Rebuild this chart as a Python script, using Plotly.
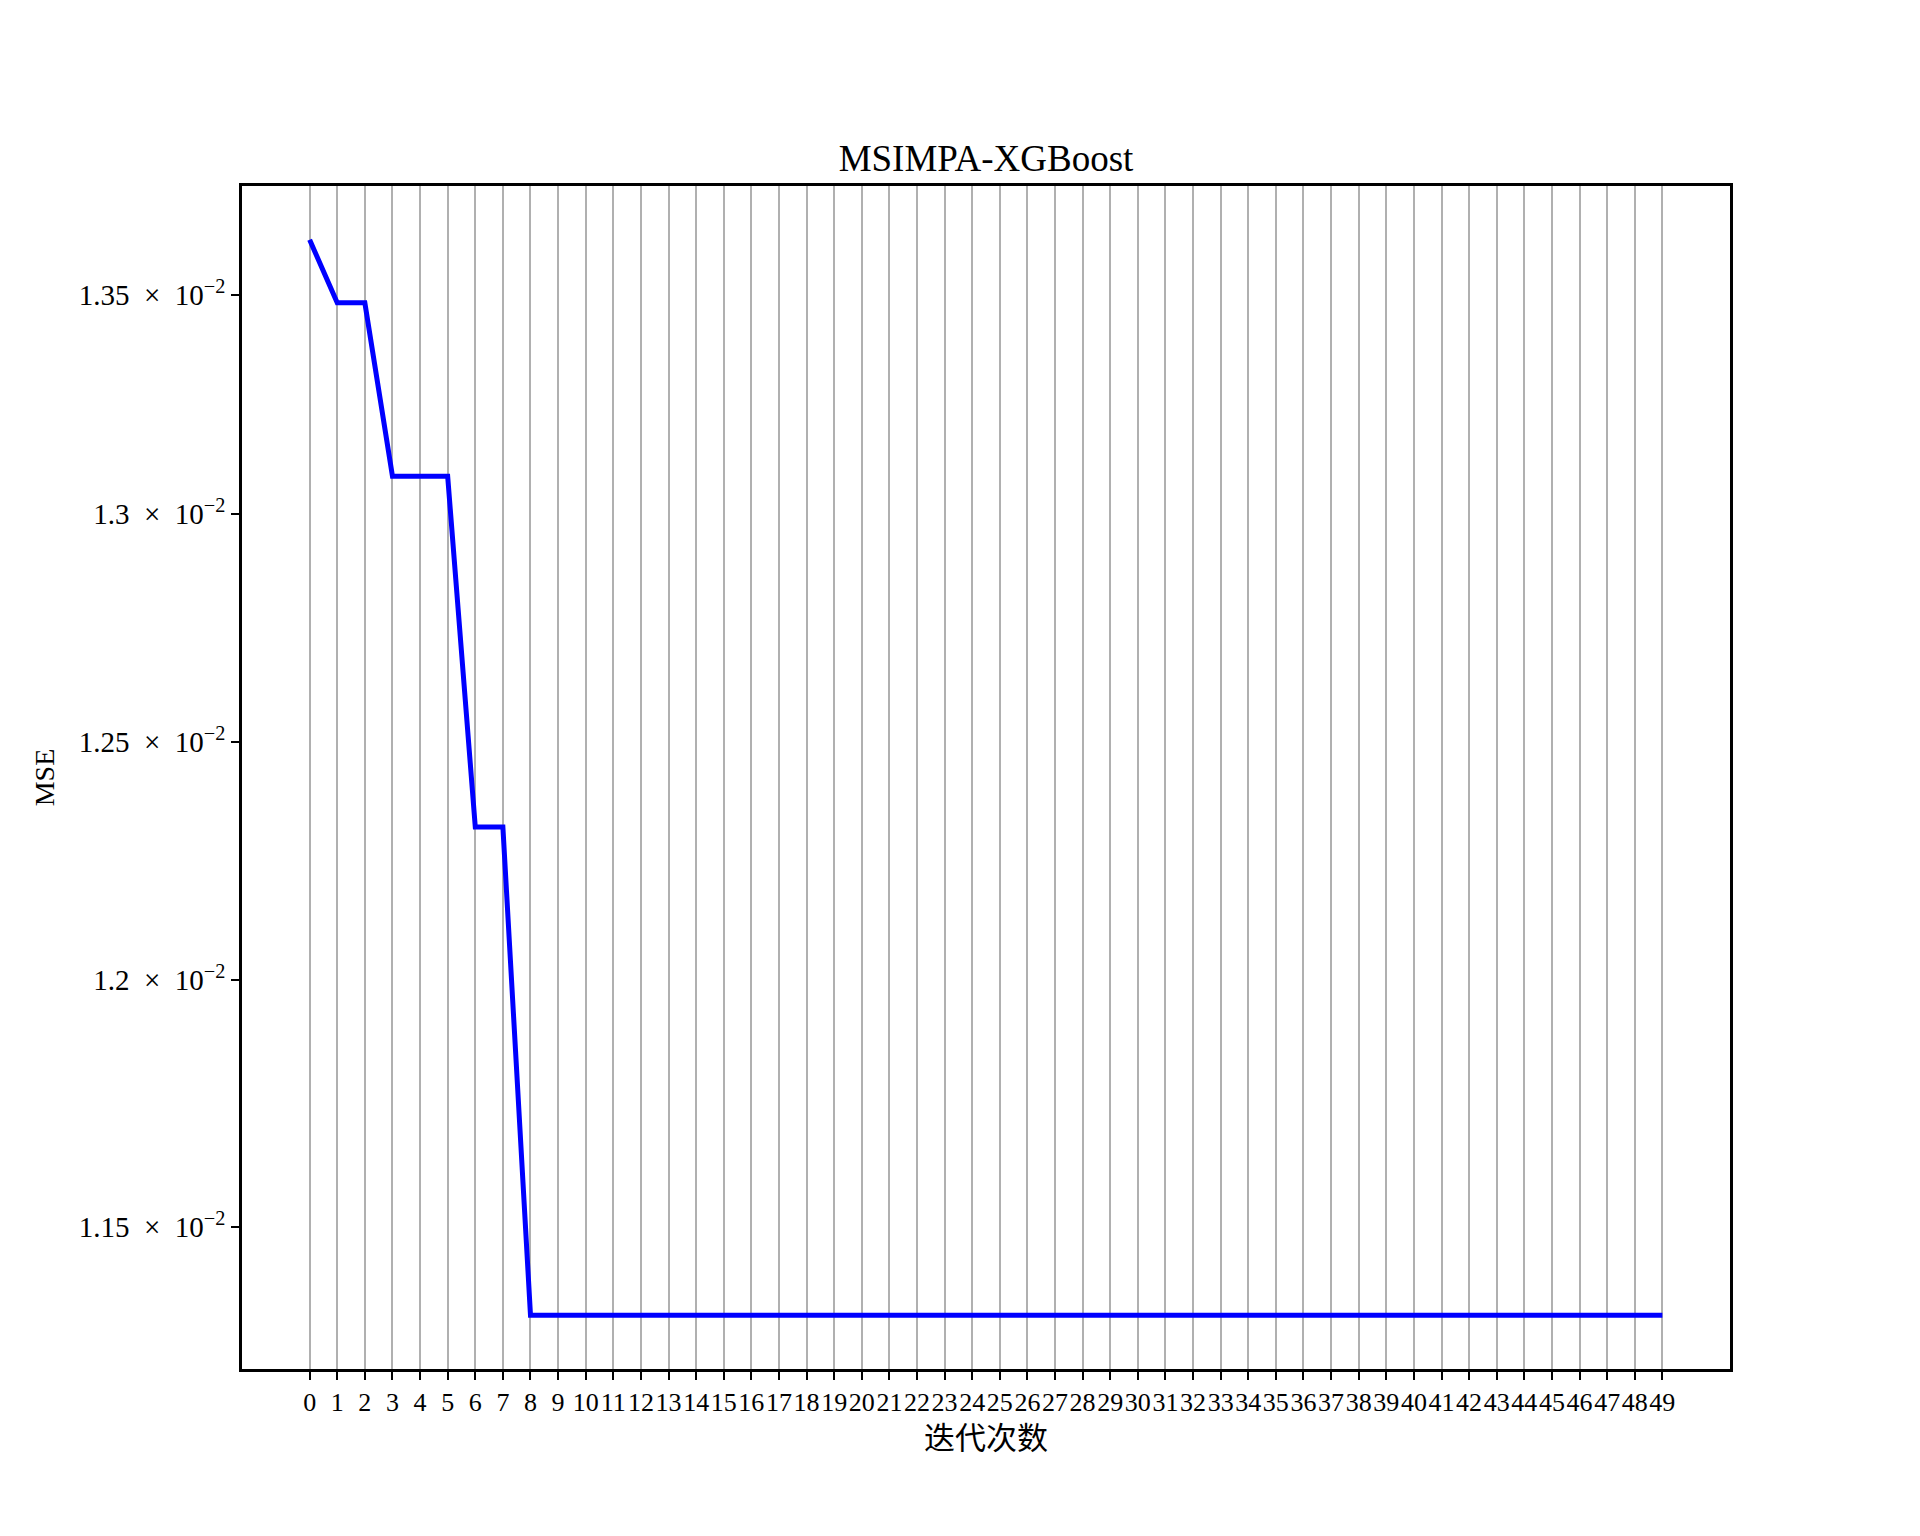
import math
import plotly.graph_objects as go

iterations = list(range(50))
mse = [
    0.013628, 0.013481, 0.013481, 0.013085, 0.013085, 0.013085, 0.012319, 0.012319,
    0.011327, 0.011327, 0.011327, 0.011327, 0.011327, 0.011327, 0.011327, 0.011327,
    0.011327, 0.011327, 0.011327, 0.011327, 0.011327, 0.011327, 0.011327, 0.011327,
    0.011327, 0.011327, 0.011327, 0.011327, 0.011327, 0.011327, 0.011327, 0.011327,
    0.011327, 0.011327, 0.011327, 0.011327, 0.011327, 0.011327, 0.011327, 0.011327,
    0.011327, 0.011327, 0.011327, 0.011327, 0.011327, 0.011327, 0.011327, 0.011327,
    0.011327, 0.011327,
]
y_tick_vals = [0.0115, 0.012, 0.0125, 0.013, 0.0135]
y_tick_text = ["1.15\u2002×\u200210<sup>−2</sup>", "1.2\u2002×\u200210<sup>−2</sup>",
               "1.25\u2002×\u200210<sup>−2</sup>", "1.3\u2002×\u200210<sup>−2</sup>",
               "1.35\u2002×\u200210<sup>−2</sup>"]
x_tick_text = [str(i) for i in iterations]

title_text = "MSIMPA-XGBoost"
x_title = "迭代次数"
y_title = "MSE"

SERIF = "Liberation Serif, 'Noto Sans CJK SC', serif"

fig = go.Figure()
fig.add_trace(go.Scatter(
    x=iterations, y=mse, mode="lines",
    line=dict(color="#0000ff", width=5),
    showlegend=False,
))

ylo, yhi = math.log10(min(mse)), math.log10(max(mse))
pad = (yhi - ylo) * 0.05
xpad = (max(iterations) - min(iterations)) * 0.05

fig.update_layout(
    width=1920, height=1536,
    paper_bgcolor="white", plot_bgcolor="white",
    margin=dict(l=234, r=198, t=178, b=175, autoexpand=False),
    font=dict(family=SERIF, size=26, color="black"),
    title=dict(text=title_text, x=(234 + 744) / 1920, xanchor="center",
               y=1 - 150 / 1536, yanchor="middle",
               font=dict(family=SERIF, size=37, color="black")),
    xaxis=dict(
        range=[min(iterations) - xpad, max(iterations) + xpad],
        tickmode="array", tickvals=iterations, ticktext=x_tick_text,
        tickangle=0, automargin=False,
        ticks="outside", ticklen=8, tickwidth=1.5, tickcolor="black",
        tickfont=dict(family=SERIF, size=26, color="black"),
        showgrid=True, gridcolor="#b0b0b0", gridwidth=1.5,
        showline=True, linecolor="black", linewidth=2.5, mirror=True,
        zeroline=False,
        title=dict(text=x_title, standoff=12,
                   font=dict(family=SERIF, size=31, color="black")),
    ),
    yaxis=dict(
        type="log",
        range=[ylo - pad, yhi + pad],
        tickmode="array", tickvals=y_tick_vals, ticktext=y_tick_text,
        automargin=False,
        ticks="outside", ticklen=8, tickwidth=1.5, tickcolor="black",
        tickfont=dict(family=SERIF, size=29, color="black"),
        showgrid=False,
        showline=True, linecolor="black", linewidth=2.5, mirror=True,
        zeroline=False,
        title=dict(text=y_title, standoff=16,
                   font=dict(family=SERIF, size=28, color="black")),
    ),
)

fig.write_html("out.html")
